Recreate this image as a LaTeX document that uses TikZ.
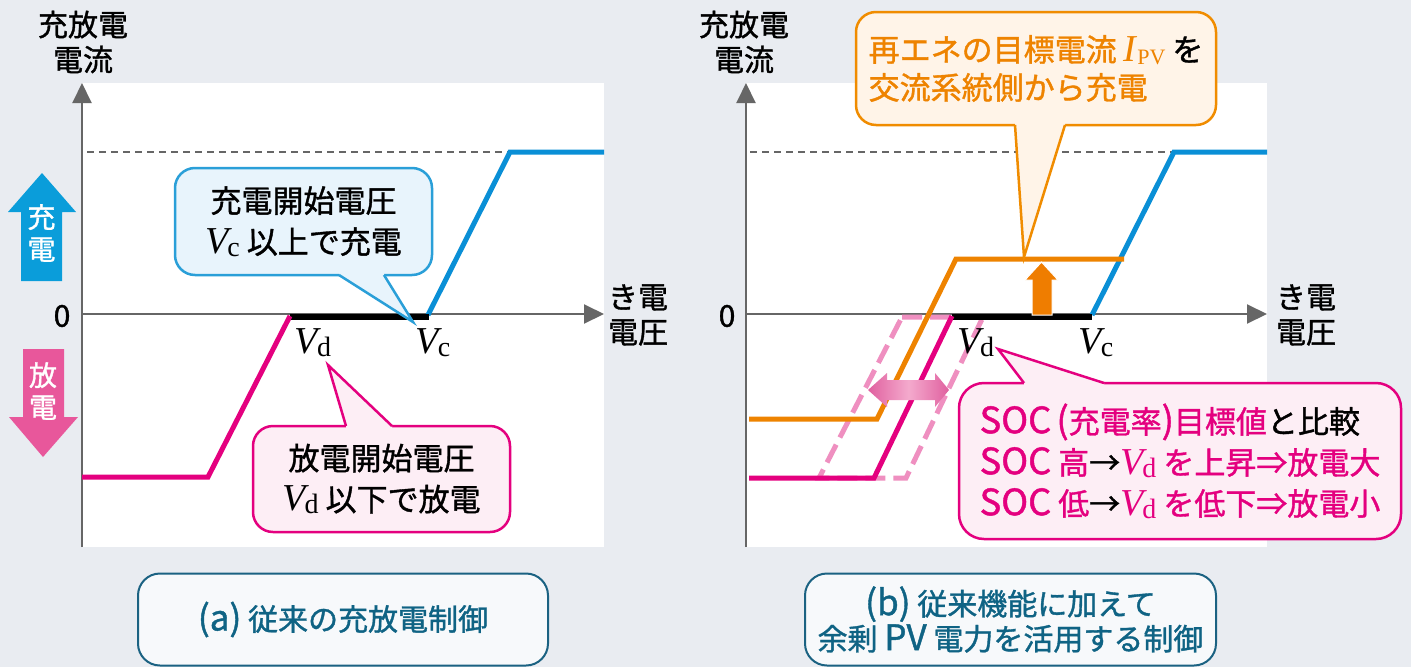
\documentclass[tikz,border=0pt]{standalone}
\usepackage{fontspec}
\setmainfont{Noto Sans CJK JP}[FakeBold=1.2]
\newfontfamily\serifit{Liberation Serif}
\newfontfamily\lat{Noto Sans CJK JP}[Scale=1.17,FakeBold=1.2]
\usetikzlibrary{arrows.meta,calc}
\definecolor{bgc}{HTML}{E9ECF1}
\definecolor{axisgray}{HTML}{666666}
\definecolor{blueln}{HTML}{0A8FD6}
\definecolor{magln}{HTML}{E4007F}
\definecolor{orgln}{HTML}{EE8300}
\definecolor{uparrow}{HTML}{0A9DDA}
\definecolor{dnarrow}{HTML}{E8579B}
\definecolor{cbBlue}{HTML}{2A9FD8}
\definecolor{cbBlueFill}{HTML}{E8F4FC}
\definecolor{cbPink}{HTML}{E4007F}
\definecolor{cbPinkFill}{HTML}{FDEEF5}
\definecolor{cbOrg}{HTML}{F08C00}
\definecolor{cbOrgFill}{HTML}{FFF4E8}
\definecolor{capBorder}{HTML}{1B6282}
\definecolor{capFill}{HTML}{F7F9FB}
\definecolor{capText}{HTML}{0F6384}
\definecolor{dashpink}{HTML}{EF8FC0}
\definecolor{orgarrow}{HTML}{EF7D00}
\definecolor{dblEdge}{HTML}{E0609F}
\definecolor{dblMid}{HTML}{F4AACD}
\newcommand{\VV}[1]{{\serifit\fontsize{38}{38}\selectfont\itshape V}\kern-1pt\raisebox{-3pt}{\serifit\fontsize{28}{28}\selectfont #1}}
\newcommand{\IPV}{{\serifit\fontsize{38}{38}\selectfont\itshape I}\kern1pt\raisebox{-3pt}{\serifit\fontsize{22}{22}\selectfont PV}}
\tikzset{
  axisln/.style={draw=axisgray, line width=2pt, -{Triangle[width=19pt,length=20pt]}},
  dashln/.style={draw=axisgray, line width=1.5pt, dash pattern=on 7pt off 5pt},
  curve/.style={line width=5pt},
  zeroseg/.style={draw=black, line width=5.5pt},
  lbl/.style={font=\fontsize{30}{35}\selectfont, align=center, inner sep=0pt},
  vlabel/.style={inner sep=0pt},
  callbox/.style={rounded corners=20pt, line width=2.5pt, inner sep=0pt, align=center, font=\fontsize{31}{41}\selectfont},
  capbox/.style={rounded corners=22pt, line width=2pt, draw=capBorder, fill=capFill, inner sep=0pt, align=center, text=capText, font=\fontsize{30}{35}\selectfont},
  arrowtext/.style={text=white, font=\fontsize{28}{32}\selectfont, align=center, inner sep=0pt},
}
\begin{document}
\begin{tikzpicture}[x=1pt,y=-1pt]
\useasboundingbox (0,0) rectangle (1411,667);
\fill[bgc] (0,0) rectangle (1411,667);
% ---------------- left panel ----------------
\fill[white] (82,83) rectangle (604,547);
\coordinate (oL) at (82,547);
\coordinate (yL) at (82,83);
\coordinate (x0L) at (82,314);
\coordinate (xL) at (604,314);
\draw[dashln] (87,152) -- (509,152);
\draw[axisln] (oL) -- (yL);
\draw[axisln] (x0L) -- (xL);
\draw[curve, draw=blueln] (428,315) -- (510,152) -- (604,152);
\draw[zeroseg] (290,317) -- (429,317);
\draw[curve, draw=magln] (82,477) -- (208,477) -- (290,316);
\node[vlabel] (vdL) at (313,343) {\VV{d}};
\node[vlabel] (vcL) at (433,343) {\VV{c}};
\node[lbl] (zeroL) at (62,316) {0};
\node[lbl] (yaxL) at (83,42) {充放電\\電流};
\node[lbl] (xaxL) at (638,315) {き電\\電圧};
% up / down arrows
\fill[uparrow] (8,212) -- (42,173) -- (76,212) -- (62,212) -- (62,281) -- (21,281) -- (21,212) -- cycle;
\node[arrowtext] (chg) at (41.5,233) {充\\電};
\fill[dnarrow] (23,349) -- (64,349) -- (64,417) -- (78,417) -- (43,457) -- (9,417) -- (23,417) -- cycle;
\node[arrowtext] (dchg) at (43,391) {放\\電};
% blue callout
\node[callbox, draw=cbBlue, fill=cbBlueFill, minimum width=257pt, minimum height=107pt] (cbB) at (303.5,221.5) {充電開始電圧\\\VV{c} 以上で充電};
\coordinate (cbBa) at (339,275);
\coordinate (cbBb) at (384,275);
\coordinate (cbBt) at (413,322);
\fill[cbBlueFill] ($(cbBa)+(0,-4)$) -- (cbBa) -- (cbBt) -- (cbBb) -- ($(cbBb)+(0,-4)$) -- cycle;
\draw[cbBlue, line width=2.5pt] (cbBa) -- (cbBt) -- (cbBb);
% pink callout left
\node[callbox, draw=cbPink, fill=cbPinkFill, minimum width=257pt, minimum height=106pt] (cbP) at (381.5,479) {放電開始電圧\\\VV{d} 以下で放電};
\coordinate (cbPa) at (346,426);
\coordinate (cbPb) at (392,426);
\coordinate (cbPt) at (328,365);
\fill[cbPinkFill] ($(cbPa)+(0,4)$) -- (cbPa) -- (cbPt) -- (cbPb) -- ($(cbPb)+(0,4)$) -- cycle;
\draw[cbPink, line width=2.5pt] (cbPa) -- (cbPt) -- (cbPb);
% caption a
\node[capbox, minimum width=410pt, minimum height=92pt] (capA) at (343,619.5) {{\lat (a)} 従来の充放電制御};
% ---------------- right panel ----------------
\fill[white] (746,83) rectangle (1267,547);
\coordinate (oR) at (746,547);
\coordinate (yR) at (746,83);
\coordinate (x0R) at (746,314);
\coordinate (xR) at (1267,314);
\draw[dashln] (750,152) -- (1174,152);
\draw[axisln] (oR) -- (yR);
\draw[axisln] (x0R) -- (xR);
\draw[draw=dashpink, line width=5pt, dash pattern=on 20pt off 8pt] (902,317) -- (983,317) -- (906,478) -- (819,478) -- cycle;
\draw[curve, draw=blueln] (1092,315) -- (1174,152) -- (1267,152);
\draw[curve, draw=orgln] (749,419) -- (877,419) -- (956,259) -- (1124,259);
\draw[zeroseg] (952,317) -- (1092,317);
\draw[curve, draw=magln] (749,478) -- (874,478) -- (952,316);
\fill[orgarrow, draw=white, line width=1pt] (1032,315) -- (1032,280) -- (1025,280) -- (1041.5,262) -- (1058,280) -- (1052,280) -- (1052,315) -- cycle;
\shade[left color=dblEdge, right color=dblEdge, middle color=dblMid] (868,390) -- (887,373) -- (887,380) -- (935,380) -- (935,373) -- (949,390) -- (935,407) -- (935,400) -- (887,400) -- (887,407) -- cycle;
\node[vlabel] (vdR) at (976,343) {\VV{d}};
\node[vlabel] (vcR) at (1096,343) {\VV{c}};
\node[lbl] (zeroR) at (727,316) {0};
\node[lbl] (yaxR) at (744,42) {充放電\\電流};
\node[lbl] (xaxR) at (1306,315) {き電\\電圧};
% orange callout
\node[callbox, draw=cbOrg, fill=cbOrgFill, minimum width=360pt, minimum height=113pt, align=left, font=\fontsize{31}{38}\selectfont] (cbO) at (1036,68.5) {{\color{orgln}再エネの目標電流 \IPV} を\\{\color{orgln}交流系統側から充電}};
\coordinate (cbOa) at (1015,125);
\coordinate (cbOb) at (1065,125);
\coordinate (cbOt) at (1024,257);
\fill[cbOrgFill] ($(cbOa)+(0,-4)$) -- (cbOa) -- (cbOt) -- (cbOb) -- ($(cbOb)+(0,-4)$) -- cycle;
\draw[cbOrg, line width=2.5pt] (cbOa) -- (cbOt) -- (cbOb);
% SOC callout
\node[callbox, draw=cbPink, fill=cbPinkFill, minimum width=442pt, minimum height=156pt, align=left, rounded corners=25pt] (cbS) at (1180,461) {{\color{magln}{\lat SOC}\,{\lat(}充電率{\lat)}目標値}と比較\\{\color{magln}{\lat SOC} 高}→{\color{magln}\VV{d} を上昇⇒放電大}\\{\color{magln}{\lat SOC} 低}→{\color{magln}\VV{d} を低下⇒放電小}};
\coordinate (cbSa) at (1024,383);
\coordinate (cbSb) at (1104,383);
\coordinate (cbSt) at (998,349);
\fill[cbPinkFill] ($(cbSa)+(0,4)$) -- (cbSa) -- (cbSt) -- (cbSb) -- ($(cbSb)+(0,4)$) -- cycle;
\draw[cbPink, line width=2.5pt] (cbSa) -- (cbSt) -- (cbSb);
% caption b
\node[capbox, minimum width=411pt, minimum height=92pt] (capB) at (1010.5,619.5) {{\lat (b)} 従来機能に加えて\\余剰 {\lat PV} 電力を活用する制御};
\end{tikzpicture}
\end{document}
